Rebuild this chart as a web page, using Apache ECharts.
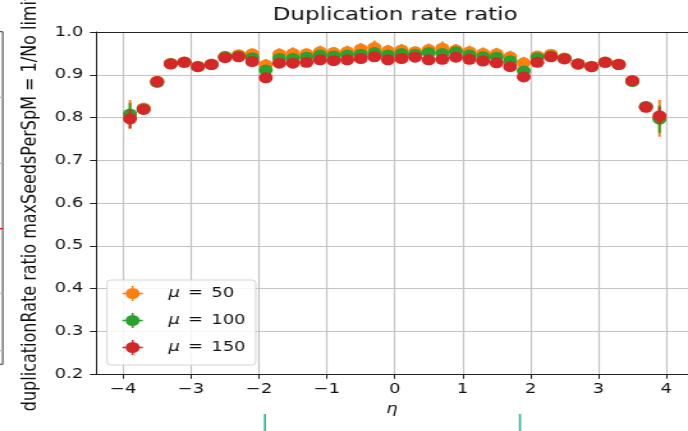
<!DOCTYPE html>
<html>
<head>
<meta charset="utf-8">
<script src="https://cdn.jsdelivr.net/npm/echarts@6/dist/echarts.min.js"></script>
<style>
  html, body { margin: 0; padding: 0; overflow: hidden; background: #fff; }
  #chart { width: 538px; height: 431px; transform: scaleX(1.2788); transform-origin: 0 0; }
</style>
</head>
<body>
<div id="chart"></div>
<script>
// eta bin centres
const eta = [-3.9, -3.7, -3.5, -3.3, -3.1, -2.9, -2.7, -2.5, -2.3, -2.1,
             -1.9, -1.7, -1.5, -1.3, -1.1, -0.9, -0.7, -0.5, -0.3, -0.1,
              0.1,  0.3,  0.5,  0.7,  0.9,  1.1,  1.3,  1.5,  1.7,  1.9,
              2.1,  2.3,  2.5,  2.7,  2.9,  3.1,  3.3,  3.5,  3.7,  3.9];

// duplication rate ratio per pile-up value
const ratioMu50 = [0.807, 0.822, 0.885, 0.927, 0.930, 0.920, 0.925, 0.943, 0.947, 0.949,
                   0.923, 0.948, 0.950, 0.949, 0.954, 0.952, 0.954, 0.960, 0.964, 0.956,
                   0.958, 0.954, 0.959, 0.962, 0.958, 0.954, 0.950, 0.949, 0.942, 0.928,
                   0.944, 0.948, 0.939, 0.926, 0.920, 0.930, 0.925, 0.886, 0.825, 0.798];
const ratioMu100 = [0.808, 0.820, 0.882, 0.926, 0.929, 0.919, 0.924, 0.942, 0.944, 0.940,
                    0.911, 0.938, 0.938, 0.941, 0.946, 0.944, 0.946, 0.948, 0.952, 0.946,
                    0.950, 0.948, 0.952, 0.950, 0.954, 0.946, 0.942, 0.941, 0.933, 0.909,
                    0.940, 0.944, 0.938, 0.925, 0.919, 0.929, 0.924, 0.884, 0.826, 0.796];
const ratioMu150 = [0.797, 0.819, 0.884, 0.925, 0.929, 0.919, 0.924, 0.940, 0.942, 0.931,
                    0.893, 0.927, 0.927, 0.929, 0.935, 0.933, 0.935, 0.938, 0.942, 0.935,
                    0.938, 0.941, 0.935, 0.936, 0.941, 0.936, 0.932, 0.928, 0.919, 0.895,
                    0.929, 0.942, 0.937, 0.925, 0.919, 0.929, 0.924, 0.886, 0.824, 0.804];

// statistical uncertainties (half widths)
const errMu50 = [0.034, 0.008, 0.006, 0.007, 0.006, 0.006, 0.006, 0.008, 0.010, 0.012,
                 0.014, 0.014, 0.014, 0.012, 0.014, 0.012, 0.014, 0.014, 0.016, 0.014,
                 0.014, 0.012, 0.014, 0.016, 0.014, 0.014, 0.014, 0.014, 0.014, 0.014,
                 0.010, 0.010, 0.008, 0.006, 0.006, 0.006, 0.006, 0.006, 0.008, 0.043];
const errMu100 = [0.026, 0.006, 0.005, 0.005, 0.005, 0.005, 0.005, 0.006, 0.008, 0.010,
                  0.012, 0.011, 0.011, 0.010, 0.011, 0.010, 0.011, 0.011, 0.012, 0.011,
                  0.011, 0.010, 0.011, 0.012, 0.011, 0.011, 0.011, 0.011, 0.011, 0.012,
                  0.008, 0.008, 0.006, 0.005, 0.005, 0.005, 0.005, 0.005, 0.006, 0.032];
const errMu150 = [0.022, 0.005, 0.004, 0.004, 0.004, 0.004, 0.004, 0.005, 0.006, 0.008,
                  0.009, 0.009, 0.009, 0.008, 0.009, 0.008, 0.009, 0.009, 0.010, 0.009,
                  0.009, 0.008, 0.009, 0.010, 0.009, 0.009, 0.009, 0.009, 0.009, 0.009,
                  0.007, 0.007, 0.005, 0.004, 0.004, 0.004, 0.004, 0.004, 0.005, 0.020];

const muLabels = ['μ = 50', 'μ = 100', 'μ = 150'];
const colors = ['#ff7f0e', '#2ca02c', '#d62728'];
const xTicks = [-4, -3, -2, -1, 0, 1, 2, 3, 4];

const FONT = 'DejaVu Sans';
const ratios = [ratioMu50, ratioMu100, ratioMu150];
const errs = [errMu50, errMu100, errMu150];

function errorBarSeries(i) {
  return {
    type: 'custom',
    name: 'err' + i,
    z: 2 + i * 2,
    data: eta.map((x, k) => [x, ratios[i][k], errs[i][k]]),
    renderItem: function (params, api) {
      const x = api.value(0), y = api.value(1), e = api.value(2);
      const p1 = api.coord([x, y - e]);
      const p2 = api.coord([x, y + e]);
      return {
        type: 'line',
        shape: { x1: p1[0], y1: p1[1], x2: p2[0], y2: p2[1] },
        style: { stroke: colors[i], lineWidth: 2 }
      };
    },
    silent: true
  };
}

function pointSeries(i) {
  return {
    type: 'scatter',
    name: muLabels[i],
    z: 3 + i * 2,
    symbol: 'circle',
    symbolSize: 11,
    itemStyle: { color: colors[i], opacity: 1 },
    data: eta.map((x, k) => [x, ratios[i][k]])
  };
}

// legend handle: error bar cross with a round marker
const handleIcon = 'path://M0,6.75 L16,6.75 L16,8.25 L0,8.25 Z M7.25,0 L8.75,0 L8.75,15 L7.25,15 Z M8,2 A5.5,5.5 0 1 1 8,13 A5.5,5.5 0 1 1 8,2 Z';

const minusFmt = v => (v < 0 ? '\u2212' + Math.abs(v) : String(v));

const chart = echarts.init(document.getElementById('chart'));
chart.setOption({
  animation: false,
  backgroundColor: '#fff',
  title: {
    text: 'Duplication rate ratio',
    left: 309,
    textAlign: 'center',
    top: 6,
    padding: 0,
    textStyle: { fontFamily: FONT, fontSize: 18, fontWeight: 'normal', color: '#111' }
  },
  grid: { left: 75.1, right: 0, top: 32, bottom: 57, outerBoundsMode: 'none', containLabel: false },
  legend: {
    data: muLabels,
    orient: 'vertical',
    left: 83.7,
    top: 280,
    padding: [6, 8, 10, 12],
    itemWidth: 16,
    itemHeight: 15,
    itemGap: 12,
    icon: handleIcon,
    itemStyle: { borderWidth: 0 },
    backgroundColor: 'rgba(255,255,255,0.85)',
    borderColor: '#d4d4d4',
    borderWidth: 1,
    borderRadius: 3,
    formatter: name => name.replace('μ', '{m|μ}').replace('=', '{e|=}'),
    textStyle: {
      fontFamily: FONT, fontSize: 14, color: '#111', lineHeight: 15,
      padding: [0, 0, 0, 15],
      rich: {
        m: { fontFamily: FONT, fontSize: 14, fontStyle: 'italic', color: '#111' },
        e: { fontFamily: FONT, fontSize: 14, color: '#111', padding: [0, 2, 0, 2] }
      }
    }
  },
  xAxis: [{
    type: 'value',
    min: -4.4,
    max: 4.32,
    name: 'η',
    nameLocation: 'middle',
    nameGap: 28,
    nameTextStyle: { fontFamily: FONT, fontSize: 14, fontStyle: 'italic', color: '#111' },
    axisLine: { onZero: false, lineStyle: { color: '#222', width: 1 } },
    axisTick: { length: 4.8, lineStyle: { color: '#222' }, customValues: xTicks },
    axisLabel: {
      customValues: xTicks, margin: 8,
      fontFamily: FONT, fontSize: 14, color: '#111',
      formatter: minusFmt
    },
    splitLine: { show: true, lineStyle: { color: '#c4c4c4', width: 1.2 } }
  }, {
    // top spine
    type: 'value',
    position: 'top',
    min: -4.4,
    max: 4.32,
    axisLine: { show: true, onZero: false, lineStyle: { color: '#222', width: 1 } },
    axisTick: { show: false },
    axisLabel: { show: false },
    splitLine: { show: false }
  }],
  yAxis: {
    type: 'value',
    min: 0.2,
    max: 1.0,
    interval: 0.1,
    name: 'duplicationRate ratio maxSeedsPerSpM = 1/No limit',
    nameLocation: 'middle',
    nameGap: 36,
    nameTextStyle: { fontFamily: FONT, fontSize: 16, color: '#111' },
    axisLine: { show: true, onZero: false, lineStyle: { color: '#222', width: 1 } },
    axisTick: { show: true, length: 4.8, lineStyle: { color: '#222' } },
    axisLabel: {
      margin: 10, fontFamily: FONT, fontSize: 14, color: '#111',
      formatter: v => v.toFixed(1)
    },
    splitLine: { show: true, lineStyle: { color: '#c4c4c4', width: 1.2 } }
  },
  series: [0, 1, 2].flatMap(i => [errorBarSeries(i), pointSeries(i)]),
  graphic: [
    // edge of the neighbouring panel on the left
    { type: 'line', shape: { x1: 2.1, y1: 31.7, x2: 2.1, y2: 364.3 }, style: { stroke: '#333', lineWidth: 1 } },
    { type: 'line', shape: { x1: 0, y1: 31.7, x2: 2.1, y2: 31.7 }, style: { stroke: '#333', lineWidth: 1 } },
    { type: 'line', shape: { x1: 0, y1: 364.3, x2: 2.1, y2: 364.3 }, style: { stroke: '#333', lineWidth: 1 } },
    { type: 'line', shape: { x1: 0, y1: 97.3, x2: 2.1, y2: 97.3 }, style: { stroke: '#bbb', lineWidth: 1.2 } },
    { type: 'line', shape: { x1: 0, y1: 163.3, x2: 2.1, y2: 163.3 }, style: { stroke: '#bbb', lineWidth: 1.2 } },
    { type: 'line', shape: { x1: 0, y1: 293.3, x2: 2.1, y2: 293.3 }, style: { stroke: '#bbb', lineWidth: 1.2 } },
    { type: 'line', shape: { x1: 0, y1: 350.7, x2: 2.1, y2: 350.7 }, style: { stroke: '#bbb', lineWidth: 1.2 } },
    { type: 'line', shape: { x1: 0, y1: 228.7, x2: 2.1, y2: 228.7 }, style: { stroke: '#e02020', lineWidth: 1.5 } },
    // markers peeking in from the panel below
    { type: 'line', shape: { x1: 207.2, y1: 414, x2: 207.2, y2: 431 }, style: { stroke: '#22b894', lineWidth: 1.6 } },
    { type: 'line', shape: { x1: 406.6, y1: 414, x2: 406.6, y2: 431 }, style: { stroke: '#22b894', lineWidth: 1.6 } }
  ]
});
</script>
</body>
</html>
